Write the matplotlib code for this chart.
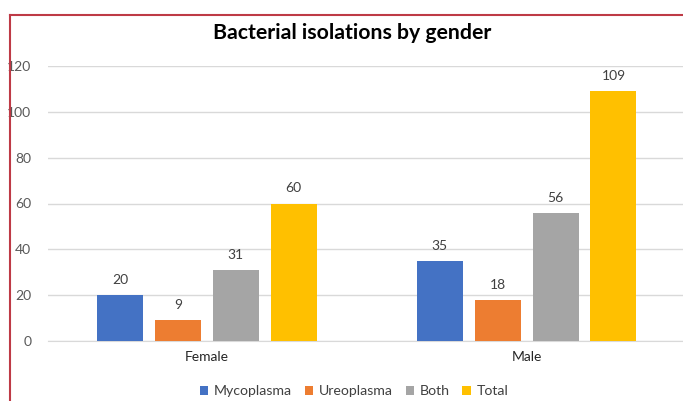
import matplotlib
matplotlib.use('Agg')
import matplotlib.pyplot as plt
from matplotlib.lines import Line2D
from matplotlib.patches import Patch
import numpy as np

# data
groups = ['Female', 'Male']
series = ['Mycoplasma', 'Ureoplasma', 'Both', 'Total']
mycoplasma = [20, 35]
ureoplasma = [9, 18]
both = [31, 56]
total = [60, 109]
colors = ['#4472C4', '#ED7D31', '#A5A5A5', '#FFC000']

plt.rcParams['font.family'] = ['Lato', 'DejaVu Sans']

W, H = 683, 401
fig = plt.figure(figsize=(W / 100, H / 100), dpi=100)
fig.patch.set_facecolor('white')

# plot area in pixels
left, right, top, bottom = 48, 683, 66, 341
ax = fig.add_axes([left / W, 1 - bottom / H, (right - left) / W, (bottom - top) / H])

x = np.arange(len(groups))
width = 0.144
pitch = 0.181
values = [mycoplasma, ureoplasma, both, total]
for i, (name, vals, c) in enumerate(zip(series, values, colors)):
    pos = x + (i - 1.5) * pitch
    bars = ax.bar(pos, vals, width=width, color=c, label=name, zorder=3)
    for b, v in zip(bars, vals):
        ax.text(b.get_x() + b.get_width() / 2, v + 4, str(v), ha='center', va='bottom',
                fontsize=10, color='#404040')

ax.set_ylim(0, 120)
ax.set_xlim(-0.497, 1.489)
ax.set_yticks(range(0, 121, 20))
ax.set_xticks(x)
ax.set_xticklabels(groups, fontsize=10, color='#262626')
ax.tick_params(axis='y', length=0, labelsize=10, labelcolor='#595959', pad=12)
ax.tick_params(axis='x', length=0, pad=7)
ax.grid(axis='y', color='#d9d9d9', linewidth=1, zorder=0)
for s in ['top', 'right', 'left']:
    ax.spines[s].set_visible(False)
ax.spines['bottom'].set_color('#d9d9d9')
ax.set_facecolor('none')

fig.text(352 / W, 1 - 33 / H, 'Bacterial isolations by gender', ha='center', va='center',
         fontsize=15.3, fontweight='bold', color='black')

handles = [Patch(facecolor=c, label=n) for n, c in zip(series, colors)]
fig.legend(handles=handles, loc='center', bbox_to_anchor=(354 / W, 1 - 391 / H), ncol=4,
           frameon=False, fontsize=10.2, handlelength=0.6, handleheight=0.6,
           handletextpad=0.4, columnspacing=0.9, labelcolor='#404040')

# red frame
fig.add_artist(Line2D([9.5 / W, 9.5 / W], [0, 1 - 15 / H], transform=fig.transFigure,
                      color='#be3a46', linewidth=1.5))
fig.add_artist(Line2D([9.5 / W, 1], [1 - 15 / H, 1 - 15 / H], transform=fig.transFigure,
                      color='#be3a46', linewidth=1.5))

plt.savefig('out.png', dpi=100, facecolor='white')
plt.close()
